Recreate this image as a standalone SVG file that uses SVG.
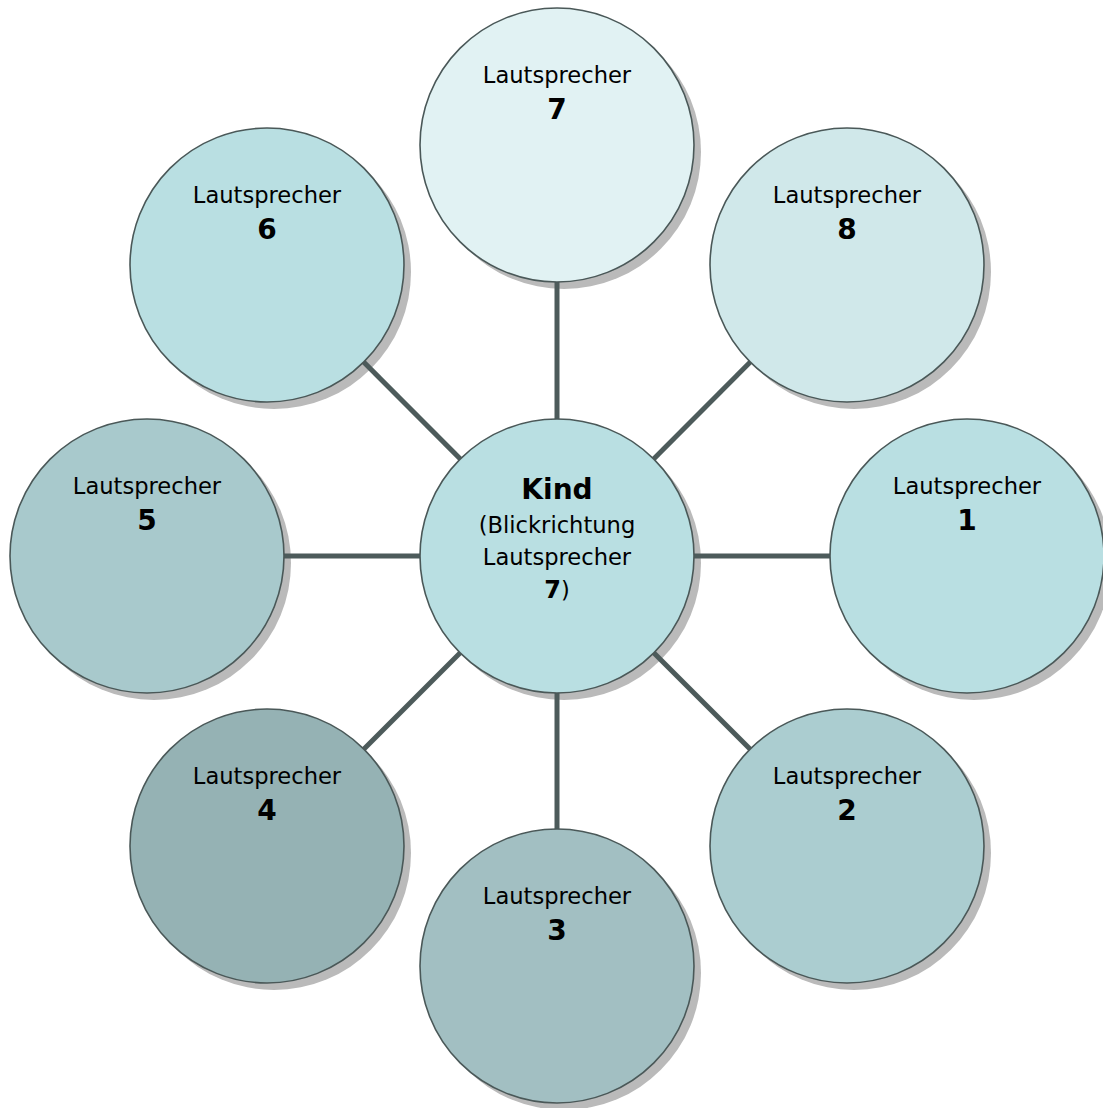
<svg xmlns="http://www.w3.org/2000/svg" width="1103" height="1108" viewBox="0 0 1103 1108">
<style>
.sh{fill:#bababa}
.nd{stroke:#4a5858;stroke-width:1.6}
.t{font-family:"DejaVu Sans","Liberation Sans",sans-serif;font-size:22.6px;fill:#000;text-anchor:middle}
.n{font-family:"DejaVu Sans","Liberation Sans",sans-serif;font-size:28px;font-weight:bold;fill:#000;text-anchor:middle}
.c{stroke:#4d5b5b;stroke-width:5;fill:none}
</style>
<rect width="1103" height="1108" fill="#fff"/>
<g id="shadows">
<circle class="sh" cx="564" cy="152" r="137"/>
<circle class="sh" cx="854" cy="272" r="137"/>
<circle class="sh" cx="274" cy="272" r="137"/>
<circle class="sh" cx="154" cy="563" r="137"/>
<circle class="sh" cx="564" cy="563" r="137"/>
<circle class="sh" cx="974" cy="563" r="137"/>
<circle class="sh" cx="274" cy="853" r="137"/>
<circle class="sh" cx="854" cy="853" r="137"/>
<circle class="sh" cx="564" cy="973" r="137"/>
</g>
<g id="connectors">
<line class="c" x1="557" y1="556" x2="557" y2="145"/>
<line class="c" x1="557" y1="556" x2="847" y2="265"/>
<line class="c" x1="557" y1="556" x2="267" y2="265"/>
<line class="c" x1="557" y1="556" x2="147" y2="556"/>
<line class="c" x1="557" y1="556" x2="967" y2="556"/>
<line class="c" x1="557" y1="556" x2="267" y2="846"/>
<line class="c" x1="557" y1="556" x2="847" y2="846"/>
<line class="c" x1="557" y1="556" x2="557" y2="966"/>
</g>
<g id="node-7">
<circle class="nd" cx="557" cy="145" r="137" fill="#e1f2f3"/>
<text class="t" x="557" y="83">Lautsprecher</text>
<text class="n" x="557" y="119">7</text>
</g>
<g id="node-8">
<circle class="nd" cx="847" cy="265" r="137" fill="#d0e8ea"/>
<text class="t" x="847" y="203">Lautsprecher</text>
<text class="n" x="847" y="239">8</text>
</g>
<g id="node-6">
<circle class="nd" cx="267" cy="265" r="137" fill="#b9dfe2"/>
<text class="t" x="267" y="203">Lautsprecher</text>
<text class="n" x="267" y="239">6</text>
</g>
<g id="node-5">
<circle class="nd" cx="147" cy="556" r="137" fill="#a8c9cc"/>
<text class="t" x="147" y="494">Lautsprecher</text>
<text class="n" x="147" y="530">5</text>
</g>
<g id="node-1">
<circle class="nd" cx="967" cy="556" r="137" fill="#b9dfe2"/>
<text class="t" x="967" y="494">Lautsprecher</text>
<text class="n" x="967" y="530">1</text>
</g>
<g id="node-4">
<circle class="nd" cx="267" cy="846" r="137" fill="#95b2b4"/>
<text class="t" x="267" y="784">Lautsprecher</text>
<text class="n" x="267" y="820">4</text>
</g>
<g id="node-2">
<circle class="nd" cx="847" cy="846" r="137" fill="#abcdd0"/>
<text class="t" x="847" y="784">Lautsprecher</text>
<text class="n" x="847" y="820">2</text>
</g>
<g id="node-3">
<circle class="nd" cx="557" cy="966" r="137" fill="#a2bfc2"/>
<text class="t" x="557" y="904">Lautsprecher</text>
<text class="n" x="557" y="940">3</text>
</g>
<g id="node-kind">
<circle class="nd" cx="557" cy="556" r="137" fill="#b9dfe2"/>
<text class="n" x="557" y="499" font-size="30">Kind</text>
<text class="t" x="557" y="533">(Blickrichtung</text>
<text class="t" x="557" y="565">Lautsprecher</text>
<text class="t" x="557" y="598"><tspan font-weight="bold" font-size="24">7</tspan>)</text>
</g>
</svg>
